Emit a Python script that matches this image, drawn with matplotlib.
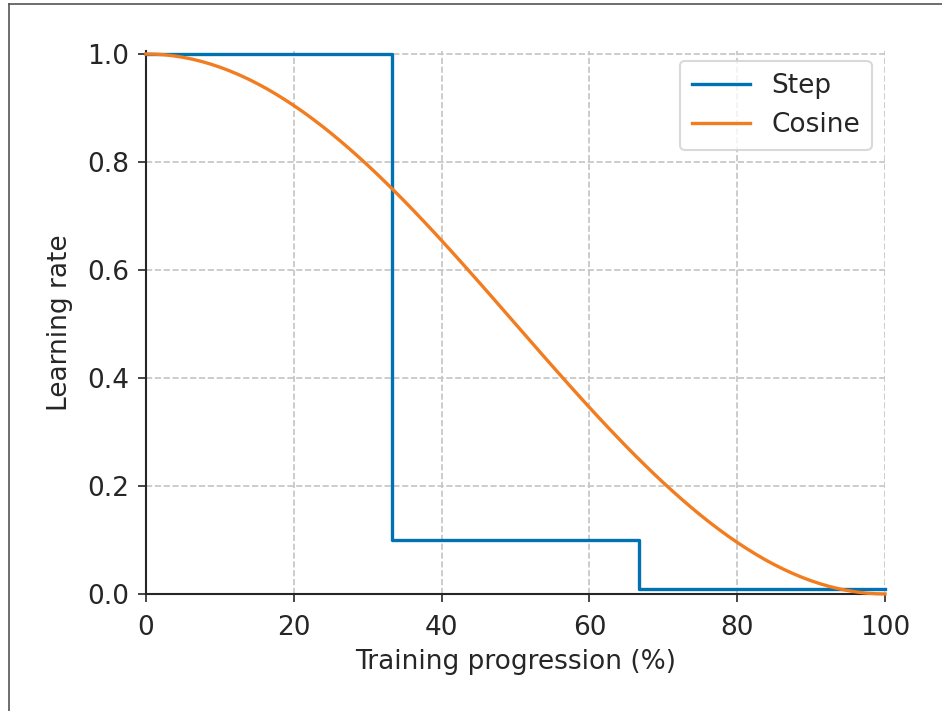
import matplotlib
matplotlib.use('Agg')
from matplotlib import pyplot as plt
from matplotlib.lines import Line2D

# Step schedule (drop x0.1 at 1/3 and 2/3 of training)
step_x = [0, 33.3, 66.7, 100]
step_y = [1.0, 0.1, 0.01, 0.01]

# Cosine schedule, every 1.25 %
cos_x = [i * 1.25 for i in range(81)]
cos_y = [1.0, 0.9996, 0.9985, 0.9965, 0.9938, 0.9904, 0.9862, 0.9812,
         0.9755, 0.9691, 0.9619, 0.9541, 0.9455, 0.9363, 0.9263, 0.9157,
         0.9045, 0.8927, 0.8802, 0.8672, 0.8536, 0.8394, 0.8247, 0.8095,
         0.7939, 0.7778, 0.7612, 0.7443, 0.7270, 0.7093, 0.6913, 0.6731,
         0.6545, 0.6357, 0.6167, 0.5975, 0.5782, 0.5588, 0.5392, 0.5196,
         0.5, 0.4804, 0.4608, 0.4412, 0.4218, 0.4025, 0.3833, 0.3643,
         0.3455, 0.3269, 0.3087, 0.2907, 0.2730, 0.2557, 0.2388, 0.2222,
         0.2061, 0.1905, 0.1753, 0.1606, 0.1464, 0.1328, 0.1198, 0.1073,
         0.0955, 0.0843, 0.0737, 0.0637, 0.0545, 0.0459, 0.0381, 0.0309,
         0.0245, 0.0188, 0.0138, 0.0096, 0.0062, 0.0035, 0.0015, 0.0004, 0.0]

xticks = [0, 20, 40, 60, 80, 100]
yticks = [0.0, 0.2, 0.4, 0.6, 0.8, 1.0]

plt.rcParams['font.family'] = ['DejaVu Sans']
plt.rcParams['font.size'] = 19
plt.rcParams['text.color'] = '#262626'
plt.rcParams['axes.labelcolor'] = '#262626'
plt.rcParams['xtick.color'] = '#262626'
plt.rcParams['ytick.color'] = '#262626'

fig = plt.figure(figsize=(9.42, 7.11), dpi=100)
ax = fig.add_axes([0.155, 0.1646, 0.7845, 0.7633])

ax.plot(step_x, step_y, drawstyle='steps-post', color='#0072B2', lw=2.4,
        label='Step', clip_on=False, zorder=3)
ax.plot(cos_x, cos_y, color='#F27C20', lw=2.4, label='Cosine',
        clip_on=False, zorder=3)

ax.set_xlim(0, 100)
ax.set_ylim(0, 1.005)
ax.set_xticks(xticks)
ax.set_yticks(yticks)
ax.set_xticklabels([str(t) for t in xticks])
ax.set_yticklabels(['%.1f' % t for t in yticks])
ax.set_xlabel('Training progression (%)', labelpad=6)
ax.set_ylabel('Learning rate', labelpad=10)

ax.grid(True, ls='--', color='#c4c4c4', lw=1.2)
ax.set_axisbelow(True)
ax.spines['top'].set_visible(False)
ax.spines['right'].set_visible(False)
for s in ['left', 'bottom']:
  ax.spines[s].set_color('#262626')
  ax.spines[s].set_linewidth(1.5)
ax.tick_params(length=6, width=1.2, pad=6)
ax.tick_params(axis='x', pad=9)

leg = ax.legend(loc='upper right', fontsize=19, frameon=True,
                borderpad=0.45, handlelength=2.2, handletextpad=0.8,
                labelspacing=0.5, borderaxespad=0,
                bbox_to_anchor=(0.982, 0.982))
leg.get_frame().set_edgecolor('#d0d0d0')
leg.get_frame().set_linewidth(1.5)

# thin frame around the figure (left and top edges visible)
fig.add_artist(Line2D([0.0095, 0.0095], [0, 0.994], color='#555555', lw=1.2))
fig.add_artist(Line2D([0.0095, 1.0], [0.994, 0.994], color='#555555', lw=1.2))

plt.savefig('out.png', dpi=100)
plt.close()
